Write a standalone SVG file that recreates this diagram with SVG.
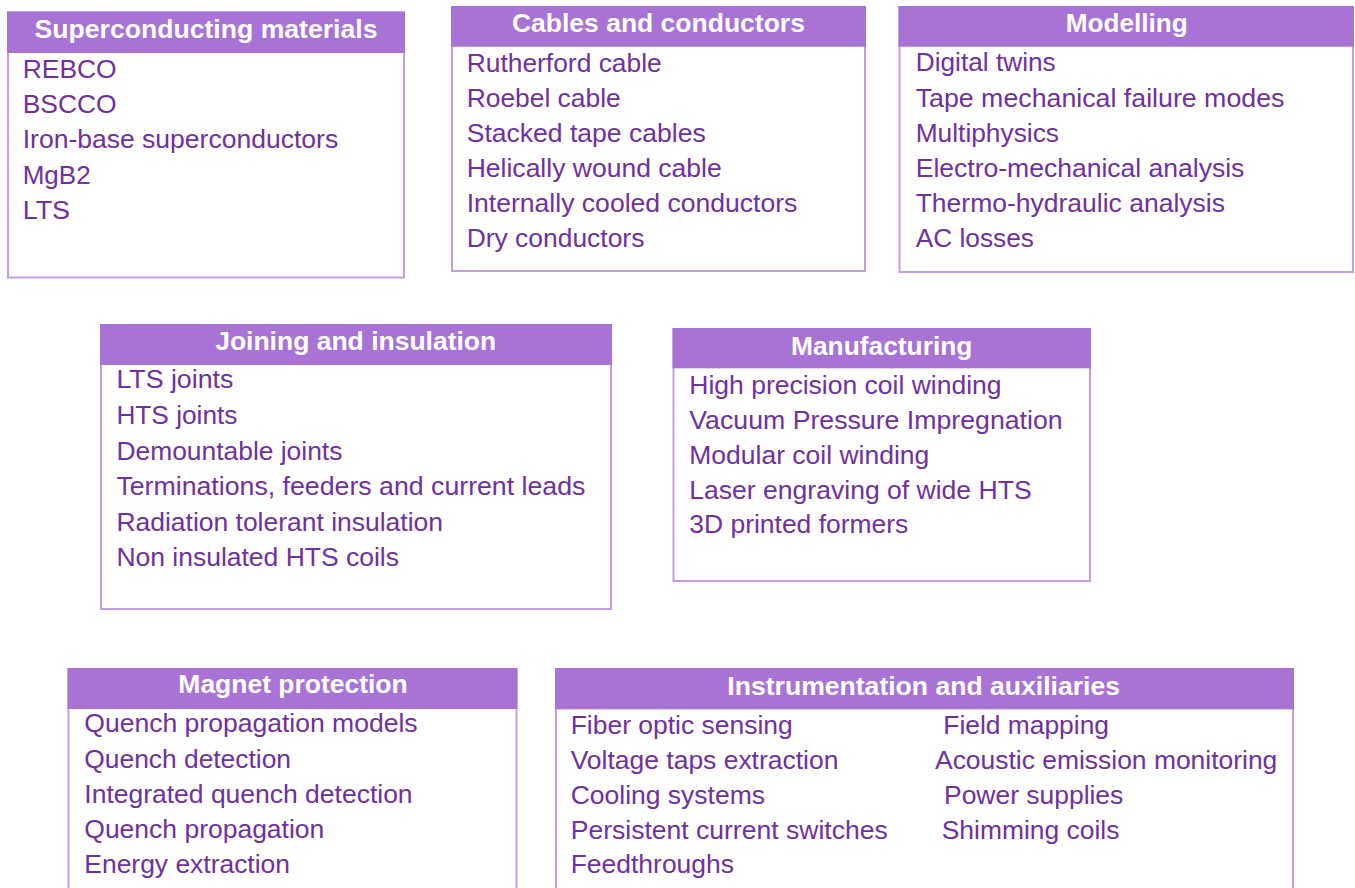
<svg xmlns="http://www.w3.org/2000/svg" width="1355" height="888" viewBox="0 0 1355 888">
<style>
.box{fill:#ffffff;stroke:#c39de3;stroke-width:2}
.hdr{fill:#a873d5}
.ttl{font-family:"Liberation Sans",Arial,sans-serif;font-weight:bold;font-size:25px;fill:#ffffff;text-anchor:middle}
.it{font-family:"Liberation Sans",Arial,sans-serif;font-size:25px;fill:#7030a0}
</style>
<rect width="1355" height="888" fill="#ffffff"/>
<g id="superconducting-materials">
<rect class="box" x="8" y="12.5" width="396" height="265"/>
<rect class="hdr" x="7" y="11.5" width="398" height="41.5"/>
<text class="ttl" x="206" y="38.3" textLength="343" lengthAdjust="spacingAndGlyphs">Superconducting materials</text>
<text class="it" x="22.7" y="78.3" textLength="94" lengthAdjust="spacingAndGlyphs">REBCO</text>
<text class="it" x="22.7" y="112.7" textLength="94" lengthAdjust="spacingAndGlyphs">BSCCO</text>
<text class="it" x="22.7" y="148.3" textLength="315.5" lengthAdjust="spacingAndGlyphs">Iron-base superconductors</text>
<text class="it" x="22.7" y="184.3" textLength="68" lengthAdjust="spacingAndGlyphs">MgB2</text>
<text class="it" x="22.7" y="219" textLength="47.3" lengthAdjust="spacingAndGlyphs">LTS</text>
</g>
<g id="cables-and-conductors">
<rect class="box" x="452" y="7" width="413" height="264"/>
<rect class="hdr" x="451" y="6" width="415" height="40.7"/>
<text class="ttl" x="658.4" y="32.3" textLength="293" lengthAdjust="spacingAndGlyphs">Cables and conductors</text>
<text class="it" x="466.7" y="71.7" textLength="195" lengthAdjust="spacingAndGlyphs">Rutherford cable</text>
<text class="it" x="466.7" y="106.7" textLength="154" lengthAdjust="spacingAndGlyphs">Roebel cable</text>
<text class="it" x="466.7" y="141.7" textLength="239" lengthAdjust="spacingAndGlyphs">Stacked tape cables</text>
<text class="it" x="466.7" y="176.7" textLength="255" lengthAdjust="spacingAndGlyphs">Helically wound cable</text>
<text class="it" x="466.7" y="212.3" textLength="330.7" lengthAdjust="spacingAndGlyphs">Internally cooled conductors</text>
<text class="it" x="466.7" y="247.3" textLength="177.7" lengthAdjust="spacingAndGlyphs">Dry conductors</text>
</g>
<g id="modelling">
<rect class="box" x="899.5" y="7" width="453.5" height="265"/>
<rect class="hdr" x="898.5" y="6" width="455.5" height="40.7"/>
<text class="ttl" x="1126.7" y="32.3" textLength="122" lengthAdjust="spacingAndGlyphs">Modelling</text>
<text class="it" x="915.7" y="70.7" textLength="140" lengthAdjust="spacingAndGlyphs">Digital twins</text>
<text class="it" x="915.7" y="106.7" textLength="368.7" lengthAdjust="spacingAndGlyphs">Tape mechanical failure modes</text>
<text class="it" x="915.7" y="141.7" textLength="143.3" lengthAdjust="spacingAndGlyphs">Multiphysics</text>
<text class="it" x="915.7" y="176.7" textLength="328.7" lengthAdjust="spacingAndGlyphs">Electro-mechanical analysis</text>
<text class="it" x="915.7" y="211.7" textLength="309.3" lengthAdjust="spacingAndGlyphs">Thermo-hydraulic analysis</text>
<text class="it" x="915.7" y="247.3" textLength="118.3" lengthAdjust="spacingAndGlyphs">AC losses</text>
</g>
<g id="joining-and-insulation">
<rect class="box" x="101" y="325" width="510" height="284"/>
<rect class="hdr" x="100" y="324" width="512" height="41"/>
<text class="ttl" x="355.7" y="350" textLength="281" lengthAdjust="spacingAndGlyphs">Joining and insulation</text>
<text class="it" x="116.4" y="388.3" textLength="117" lengthAdjust="spacingAndGlyphs">LTS joints</text>
<text class="it" x="116.4" y="424.3" textLength="121" lengthAdjust="spacingAndGlyphs">HTS joints</text>
<text class="it" x="116.4" y="460" textLength="226" lengthAdjust="spacingAndGlyphs">Demountable joints</text>
<text class="it" x="116.4" y="495" textLength="469" lengthAdjust="spacingAndGlyphs">Terminations, feeders and current leads</text>
<text class="it" x="116.4" y="531" textLength="326.6" lengthAdjust="spacingAndGlyphs">Radiation tolerant insulation</text>
<text class="it" x="116.4" y="565.7" textLength="282.6" lengthAdjust="spacingAndGlyphs">Non insulated HTS coils</text>
</g>
<g id="manufacturing">
<rect class="box" x="673.5" y="329" width="416.5" height="252"/>
<rect class="hdr" x="672.5" y="328" width="418.5" height="40.3"/>
<text class="ttl" x="881.7" y="355" textLength="181.3" lengthAdjust="spacingAndGlyphs">Manufacturing</text>
<text class="it" x="689.3" y="394" textLength="312.3" lengthAdjust="spacingAndGlyphs">High precision coil winding</text>
<text class="it" x="689.3" y="429.3" textLength="373.3" lengthAdjust="spacingAndGlyphs">Vacuum Pressure Impregnation</text>
<text class="it" x="689.3" y="464" textLength="240" lengthAdjust="spacingAndGlyphs">Modular coil winding</text>
<text class="it" x="689.3" y="499.3" textLength="342.3" lengthAdjust="spacingAndGlyphs">Laser engraving of wide HTS</text>
<text class="it" x="689.3" y="533.3" textLength="219" lengthAdjust="spacingAndGlyphs">3D printed formers</text>
</g>
<g id="magnet-protection">
<rect class="box" x="68.5" y="669" width="448" height="240"/>
<rect class="hdr" x="67.5" y="668" width="450" height="41"/>
<text class="ttl" x="293" y="693.3" textLength="229.3" lengthAdjust="spacingAndGlyphs">Magnet protection</text>
<text class="it" x="84.3" y="731.7" textLength="333.3" lengthAdjust="spacingAndGlyphs">Quench propagation models</text>
<text class="it" x="84.3" y="768.3" textLength="206.7" lengthAdjust="spacingAndGlyphs">Quench detection</text>
<text class="it" x="84.3" y="803.3" textLength="328.3" lengthAdjust="spacingAndGlyphs">Integrated quench detection</text>
<text class="it" x="84.3" y="838.3" textLength="240" lengthAdjust="spacingAndGlyphs">Quench propagation</text>
<text class="it" x="84.3" y="873.3" textLength="205.7" lengthAdjust="spacingAndGlyphs">Energy extraction</text>
</g>
<g id="instrumentation-and-auxiliaries">
<rect class="box" x="556" y="669" width="737" height="240"/>
<rect class="hdr" x="555" y="668" width="739" height="41.3"/>
<text class="ttl" x="923.7" y="695" textLength="392.7" lengthAdjust="spacingAndGlyphs">Instrumentation and auxiliaries</text>
<text class="it" x="570.7" y="734" textLength="222" lengthAdjust="spacingAndGlyphs">Fiber optic sensing</text>
<text class="it" x="570.7" y="769" textLength="267.7" lengthAdjust="spacingAndGlyphs">Voltage taps extraction</text>
<text class="it" x="570.7" y="804.3" textLength="194.3" lengthAdjust="spacingAndGlyphs">Cooling systems</text>
<text class="it" x="570.7" y="839" textLength="317" lengthAdjust="spacingAndGlyphs">Persistent current switches</text>
<text class="it" x="570.7" y="873.3" textLength="163.3" lengthAdjust="spacingAndGlyphs">Feedthroughs</text>
<text class="it" x="943.3" y="734" textLength="165.7" lengthAdjust="spacingAndGlyphs">Field mapping</text>
<text class="it" x="935" y="769.3" textLength="342.3" lengthAdjust="spacingAndGlyphs">Acoustic emission monitoring</text>
<text class="it" x="944" y="804.3" textLength="179.3" lengthAdjust="spacingAndGlyphs">Power supplies</text>
<text class="it" x="941.7" y="839" textLength="177.7" lengthAdjust="spacingAndGlyphs">Shimming coils</text>
</g>
<g id="connectors"></g>
</svg>
